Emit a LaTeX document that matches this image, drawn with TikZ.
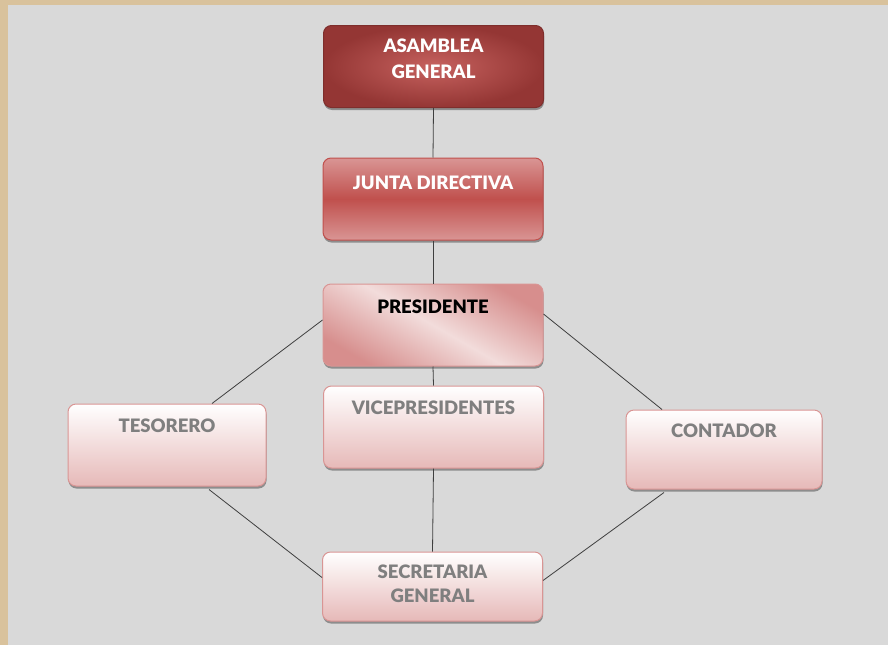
\documentclass[tikz,border=0pt]{standalone}
\usepackage{fontspec}
\setmainfont{Lato}[BoldFont={Lato Black}]
\usepackage{tikz}
\usetikzlibrary{shapes,positioning,calc,shadows}

\definecolor{bgtan}{HTML}{D9C29C}
\definecolor{bggray}{HTML}{D9D9D9}
\definecolor{reddark}{HTML}{943634}
\definecolor{redmid}{HTML}{C0504D}
\definecolor{redlight}{HTML}{D99594}
\definecolor{pinklight}{HTML}{F2DCDB}
\definecolor{pinkbottom}{HTML}{E6B9B8}
\definecolor{textgray}{HTML}{7F7F7F}
\definecolor{linegray}{HTML}{3F3F3F}

\begin{document}
\begin{tikzpicture}[x=1pt, y=-1pt,
    orgbox/.style={draw, rectangle, rounded corners=8pt, line width=1pt,
      minimum width=220pt, minimum height=82pt, inner sep=0pt,
      drop shadow={shadow xshift=0.5pt, shadow yshift=-2.5pt, fill=black, opacity=0.35}},
    asambox/.style={orgbox, draw=reddark!85!black, inner color=redmid!90!white, outer color=reddark},
    juntabox/.style={orgbox, draw=redmid, top color=redlight, bottom color=redlight, middle color=redmid},
    presbox/.style={orgbox, draw=redlight, left color=redlight!90!redmid, right color=redlight!90!redmid, middle color=pinklight, shading angle=-30},
    pinkbox/.style={orgbox, draw=redlight, top color=white, bottom color=pinkbottom},
    boxtext/.style={anchor=north, inner sep=0pt, align=center, font=\fontsize{18.5}{26}\selectfont\bfseries},
    link/.style={draw=linegray, line width=0.8pt}]

  % Background
  \useasboundingbox (0,0) rectangle (888,645);
  \fill[bgtan] (0,0) rectangle (888,645);
  \fill[bggray] (8,5) rectangle (888,645);

  % Top boxes
  \node[asambox] (asam) at (433.5,66.5) {};
  \node[boxtext, text=white] (asamtxt) at ([yshift=-14pt]asam.north) {ASAMBLEA\\GENERAL};

  \node[juntabox] (junta) at (433,199) {};
  \node[boxtext, text=white] (juntatxt) at ([yshift=-18pt]junta.north) {JUNTA DIRECTIVA};

  \node[presbox] (pres) at (433,325) {};
  \node[boxtext, text=black] (prestxt) at ([yshift=-16pt]pres.north) {PRESIDENTE};

  % Lower boxes
  \node[pinkbox] (vice) at (433.5,427) {};
  \node[boxtext, text=textgray] (vicetxt) at ([yshift=-15pt]vice.north) {VICEPRESIDENTES};

  \node[pinkbox, minimum width=198pt] (teso) at (167,445) {};
  \node[boxtext, text=textgray] (tesotxt) at ([yshift=-15pt]teso.north) {TESORERO};

  \node[pinkbox, minimum width=196pt, minimum height=79pt] (cont) at (724,449.5) {};
  \node[boxtext, text=textgray] (conttxt) at ([yshift=-14pt]cont.north) {CONTADOR};

  \node[pinkbox, minimum height=69pt] (secr) at (432.5,586.5) {};
  \node[boxtext, text=textgray] (secrtxt) at ([yshift=-13pt]secr.north) {SECRETARIA\\[-2pt]GENERAL};

  % Links
  \draw[link] (asam.south) -- (junta.north);
  \draw[link] (junta.south) -- (pres.north);
  \draw[link] (pres.south) -- (vice.north);
  \draw[link] ([yshift=5pt]pres.west) -- ([xshift=45pt]teso.north);
  \draw[link] ([yshift=11pt]pres.east) -- ([xshift=-62pt]cont.north);
  \draw[link] ([xshift=42pt,yshift=-3pt]teso.south) -- ([yshift=9pt]secr.west);
  \draw[link] (vice.south) -- (secr.north);
  \draw[link] ([xshift=-60pt,yshift=-3pt]cont.south) -- ([yshift=6pt]secr.east);
\end{tikzpicture}
\end{document}
